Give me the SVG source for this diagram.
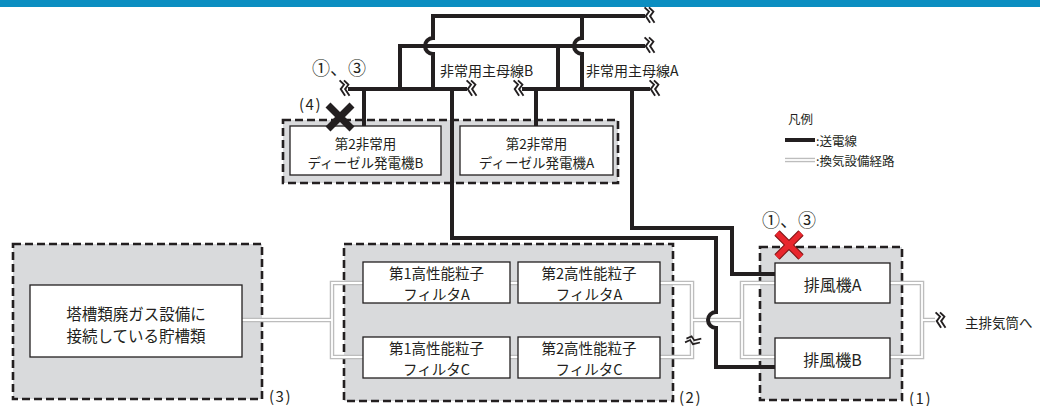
<svg xmlns="http://www.w3.org/2000/svg" width="1040" height="406" viewBox="0 0 1040 406">
<style>
text { font-family: "Noto Sans CJK JP", "Noto Sans", sans-serif; fill: #231f20; dominant-baseline: central; }
.c { text-anchor: middle; }
.grp { fill: #d9dadc; stroke: #231f20; stroke-width: 2.6; stroke-dasharray: 8 4; }
.box { fill: #ffffff; stroke: #231f20; stroke-width: 1.3; }
.pw { fill: none; stroke: #231f20; stroke-width: 4; stroke-linejoin: miter; }
.vo { fill: none; stroke: #bdbdbd; stroke-width: 4.5; }
.vi { fill: none; stroke: #ffffff; stroke-width: 1.8; }
.brk { fill: none; stroke: #231f20; stroke-width: 1.7; }
.f13 { font-size: 13.5px; }
.f14 { font-size: 14px; }
.f145 { font-size: 14.5px; }
.f15 { font-size: 15.5px; }
.f16 { font-size: 16px; }
.f12 { font-size: 12.5px; }
.num { font-size: 18px; }
.par { font-size: 15px; letter-spacing: 1.5px; }
</style>
<defs>
<path id="brkp" d="M-4,-7 L0,-3 L-3,1 L1,7 M0,-7 L4,-3 L1,1 L5,7"/>
<path id="vent" d="M242,320 H332 M363,283 H332 V357 H363 M510,283 H518 M510,357 H518 M660,283 H692 V357 H660 M692,320 H742 M775,283 H742 V357 H775 M890,283 H922 V357 H890 M922,320 H935"/>
</defs>

<rect x="0" y="0" width="1040" height="7" fill="#0b8ec1"/>

<g id="group-tanks">
<rect class="grp" x="13" y="244" width="249" height="155"/>
<text class="par" x="269" y="395">(3)</text>
</g>
<g id="group-filters">
<rect class="grp" x="344" y="244" width="329" height="157"/>
<text class="par" x="679" y="396">(2)</text>
</g>
<g id="group-fans">
<rect class="grp" x="760" y="247" width="142" height="153"/>
<text class="par" x="909" y="397">(1)</text>
</g>
<g id="group-generators">
<rect class="grp" x="283" y="120" width="335" height="63"/>
</g>

<g id="connectors">
<use href="#vent" class="vo"/>
<use href="#vent" class="vi"/>
<path class="pw" d="M645,16 H433 V38 A8,8 0 0 0 433,54 V89"/>
<path class="pw" d="M582,16 V38 A8,8 0 0 0 582,54 V89"/>
<path class="pw" d="M645,46 H400 V89"/>
<path class="pw" d="M558,46 V89"/>
<path class="pw" d="M348,89 H467"/>
<path class="pw" d="M522,89 H650"/>
<path class="pw" d="M364,89 V126"/>
<path class="pw" d="M536,89 V126"/>
<path class="pw" d="M452,89 V238 H716 V312 A8,8 0 0 0 716,328 V367 H775"/>
<path class="pw" d="M632,89 V228 H732 V274 H775"/>
<use href="#brkp" class="brk" transform="translate(649,15) scale(1.1)"/>
<use href="#brkp" class="brk" transform="translate(649,45) scale(1.1)"/>
<use href="#brkp" class="brk" transform="translate(344,88) scale(1.1)"/>
<use href="#brkp" class="brk" transform="translate(471,88) scale(1.1)"/>
<use href="#brkp" class="brk" transform="translate(518,88) scale(1.1)"/>
<use href="#brkp" class="brk" transform="translate(654,88) scale(1.1)"/>
<use href="#brkp" class="brk" transform="translate(693,341) rotate(-70)"/>
<use href="#brkp" class="brk" transform="translate(940,320) scale(1.1)"/>
</g>

<text class="f14" x="440" y="70">非常用主母線B</text>
<text class="f14" x="586" y="70">非常用主母線A</text>

<g id="gen-b">
<rect class="box" x="290" y="126" width="151" height="49"/>
<text class="f13 c" x="365.5" y="143">第2非常用</text>
<text class="f13 c" x="365.5" y="162">ディーゼル発電機B</text>
</g>
<g id="gen-a">
<rect class="box" x="460" y="126" width="153" height="49"/>
<text class="f13 c" x="536.5" y="143">第2非常用</text>
<text class="f13 c" x="536.5" y="162">ディーゼル発電機A</text>
</g>

<g id="tanks">
<rect class="box" x="30" y="285" width="212" height="72"/>
<text class="f15 c" x="136" y="313">塔槽類廃ガス設備に</text>
<text class="f15 c" x="136" y="335">接続している貯槽類</text>
</g>

<g id="filter-1a">
<rect class="box" x="363" y="262" width="147" height="41"/>
<text class="f145 c" x="436.5" y="272.5">第1高性能粒子</text>
<text class="f145 c" x="436.5" y="293.5">フィルタA</text>
</g>
<g id="filter-2a">
<rect class="box" x="518" y="262" width="142" height="41"/>
<text class="f145 c" x="589" y="272.5">第2高性能粒子</text>
<text class="f145 c" x="589" y="293.5">フィルタA</text>
</g>
<g id="filter-1c">
<rect class="box" x="363" y="337" width="147" height="41"/>
<text class="f145 c" x="436.5" y="347.5">第1高性能粒子</text>
<text class="f145 c" x="436.5" y="368.5">フィルタC</text>
</g>
<g id="filter-2c">
<rect class="box" x="518" y="337" width="142" height="41"/>
<text class="f145 c" x="589" y="347.5">第2高性能粒子</text>
<text class="f145 c" x="589" y="368.5">フィルタC</text>
</g>

<g id="fan-a">
<rect class="box" x="775" y="263" width="115" height="40"/>
<text class="f16 c" x="832.5" y="284">排風機A</text>
</g>
<g id="fan-b">
<rect class="box" x="775" y="338" width="115" height="40"/>
<text class="f16 c" x="832.5" y="359">排風機B</text>
</g>

<text class="f13" x="965" y="322">主排気筒へ</text>

<g id="marks">
<text class="num" x="312" y="67">①、③</text>
<text class="par" x="299" y="103">(4)</text>
<path d="M328,105 L352,129 M352,105 L328,129" stroke="#231f20" stroke-width="7" fill="none"/>
<text class="num" x="762" y="219">①、③</text>
<path d="M777,233 L801,257 M801,233 L777,257" stroke="#7a1414" stroke-width="7.5" fill="none"/>
<path d="M777,233 L801,257 M801,233 L777,257" stroke="#e8262d" stroke-width="5.5" fill="none"/>
</g>

<g id="legend">
<text class="f12" x="788" y="118">凡例</text>
<path d="M785,140 H815" stroke="#231f20" stroke-width="4"/>
<text class="f12" x="816" y="140">:送電線</text>
<path d="M785,160 H815" stroke="#bdbdbd" stroke-width="4.5"/>
<path d="M785,160 H815" stroke="#ffffff" stroke-width="1.8"/>
<text class="f12" x="816" y="160">:換気設備経路</text>
</g>
</svg>
